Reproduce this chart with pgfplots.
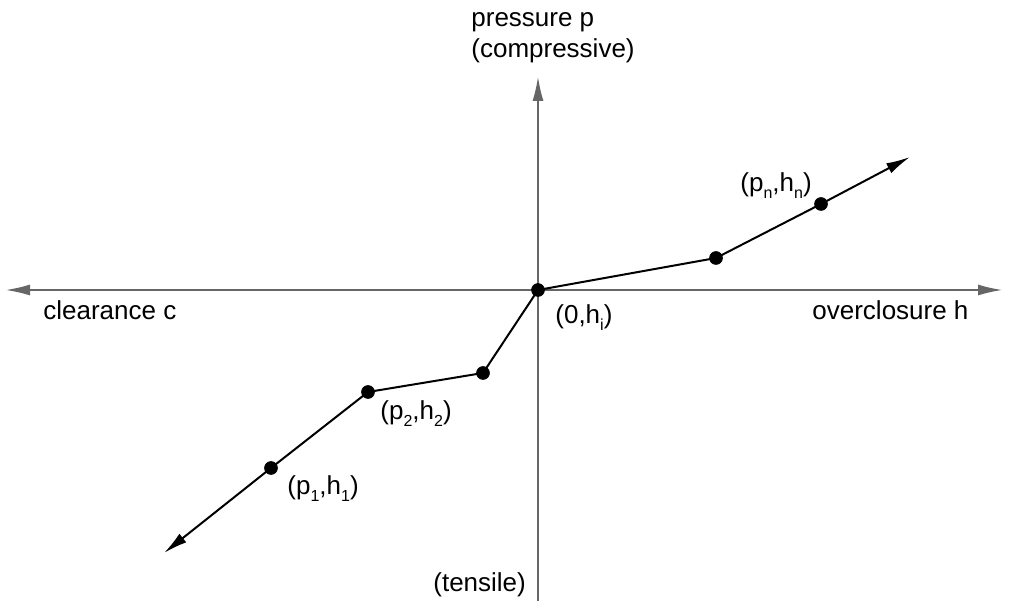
\documentclass[border=0pt]{standalone}
\usepackage{pgfplots}
\pgfplotsset{compat=1.18}
\usepackage{fontspec}
\setmainfont{Liberation Sans}
\usetikzlibrary{arrows.meta}
\newcommand\sub[1]{\raisebox{-0.5ex}{\fontsize{8}{8}\selectfont #1}}
\tikzset{lab/.style={font=\fontsize{13}{15.6}\selectfont, inner sep=0pt, anchor=base west, text=black}}
\begin{document}
\begin{tikzpicture}
\begin{axis}[
  scale only axis, width=506pt, height=304.5pt,
  xmin=-538, xmax=474, ymin=-319, ymax=290,
  hide axis, clip=false,
]
\coordinate (SW) at (rel axis cs:0,0);
\coordinate (NE) at (rel axis cs:1,1);
% axes
\addplot[color=black!60, line width=0.65pt, {Latex[length=12pt,width=5.5pt]}-{Latex[length=12pt,width=5.5pt]}, forget plot]
  coordinates {(-532,0) (464,0)};
\addplot[color=black!60, line width=0.65pt, -{Latex[length=12pt,width=5.5pt]}, forget plot]
  coordinates {(0,-311) (0,213)};
% curve
\addplot[color=black, line width=1pt, {Latex[length=12pt,width=5.5pt]}-{Latex[length=12pt,width=5.5pt]}, forget plot]
  coordinates {(-374,-263) (-267,-178) (-170,-102) (-55,-83) (0,0) (178,32) (283,86) (372,133)};
\addplot[only marks, mark=*, mark size=3.2pt, color=black, forget plot]
  coordinates {(-267,-178) (-170,-102) (-55,-83) (0,0) (178,32) (283,86)};
% labels
\node[lab] at (axis cs:-67,263) {pressure p};
\node[lab] at (axis cs:-67,232) {(compressive)};
\node[lab] at (axis cs:-495,-30) {clearance c};
\node[lab] at (axis cs:274,-30) {overclosure h};
\node[lab] at (axis cs:17,-34) {(0,h\sub{i})};
\node[lab] at (axis cs:-158,-130) {(p\sub{2},h\sub{2})};
\node[lab] at (axis cs:-251,-205) {(p\sub{1},h\sub{1})};
\node[lab] at (axis cs:202,98) {(p\sub{n},h\sub{n})};
\node[lab] at (axis cs:-105,-302) {(tensile)};
\end{axis}
\pgfresetboundingbox
\path[use as bounding box] (SW) rectangle (NE);
\end{tikzpicture}
\end{document}
